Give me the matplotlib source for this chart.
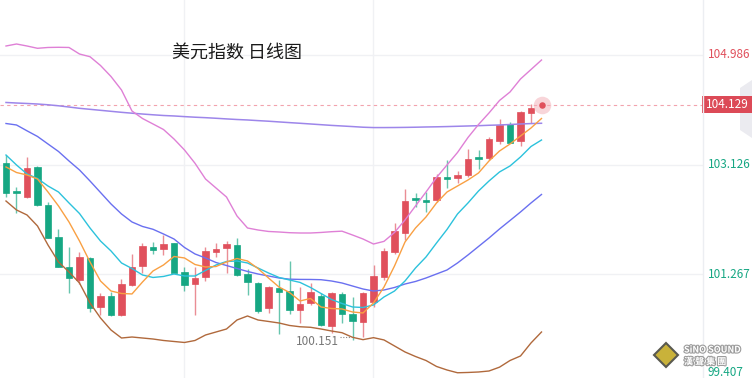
import matplotlib
matplotlib.use("Agg")
import matplotlib.pyplot as plt
import matplotlib.patheffects as pe
from matplotlib.patches import Rectangle, Polygon

# daily candles, US dollar index
opens = [103.157, 102.682, 102.570, 103.090, 102.439, 101.901, 101.392, 101.166, 101.545, 100.713,
         100.894, 100.572, 101.081, 101.404, 101.721, 101.687, 101.789, 101.307, 101.098, 101.222,
         101.646, 101.704, 101.760, 101.268, 101.120, 100.686, 101.025, 100.979, 100.657, 100.781,
         100.894, 100.385, 100.928, 100.589, 100.461, 100.798, 101.212, 101.646, 101.969, 102.553,
         102.512, 102.524, 102.906, 102.893, 102.949, 103.242, 103.232, 103.526, 103.809, 103.526,
         104.006, 104.110]
highs = [103.288, 102.750, 103.259, 103.101, 102.495, 102.027, 101.721, 101.636, 101.562, 100.940,
         100.967, 101.178, 101.602, 101.799, 101.816, 101.930, 101.799, 101.392, 101.392, 101.721,
         101.789, 101.833, 101.874, 101.353, 101.137, 101.064, 101.166, 101.489, 101.042, 101.120,
         100.940, 100.967, 100.967, 100.882, 100.967, 101.421, 101.704, 102.139, 102.706, 102.648,
         102.665, 102.966, 103.198, 103.017, 103.385, 103.373, 103.599, 103.894, 103.843, 104.035,
         104.154, 104.150]
lows = [102.580, 102.298, 102.560, 102.422, 101.880, 101.382, 100.950, 101.098, 100.628, 100.572,
        100.555, 100.555, 101.069, 101.280, 101.602, 101.590, 101.280, 100.984, 100.572, 101.154,
        101.562, 101.290, 101.234, 100.903, 100.611, 100.601, 100.249, 100.589, 100.441, 100.742,
        100.385, 100.261, 100.441, 100.151, 100.203, 100.713, 101.166, 101.607, 101.845, 102.400,
        102.315, 102.495, 102.723, 102.808, 102.920, 103.045, 103.203, 103.470, 103.487, 103.441,
        103.826, 104.090]
closes = [102.648, 102.638, 103.062, 102.439, 101.884, 101.392, 101.205, 101.551, 100.686, 100.894,
          100.572, 101.093, 101.392, 101.743, 101.675, 101.772, 101.290, 101.081, 101.195, 101.658,
          101.692, 101.772, 101.251, 101.137, 100.645, 101.042, 100.967, 100.657, 100.759, 100.957,
          100.402, 100.950, 100.589, 100.475, 100.950, 101.234, 101.658, 101.998, 102.507, 102.524,
          102.490, 102.920, 102.881, 102.949, 103.215, 103.220, 103.555, 103.798, 103.497, 104.013,
          104.091, 104.129]

ma5 = [103.085, 102.991, 102.949, 102.881, 102.660, 102.423, 102.151, 101.828, 101.472, 101.149,
       100.979, 100.937, 100.929, 101.132, 101.319, 101.421, 101.565, 101.540, 101.429, 101.387,
       101.395, 101.472, 101.531, 101.489, 101.361, 101.200, 101.047, 100.954, 100.810, 100.852,
       100.708, 100.682, 100.674, 100.623, 100.606, 100.776, 101.047, 101.404, 101.811, 102.049,
       102.236, 102.474, 102.660, 102.762, 102.864, 102.983, 103.187, 103.356, 103.475, 103.611,
       103.747, 103.908]
ma10 = [103.288, 103.119, 102.966, 102.889, 102.762, 102.660, 102.474, 102.295, 102.049, 101.828,
        101.659, 101.455, 101.361, 101.251, 101.209, 101.226, 101.268, 101.234, 101.234, 101.328,
        101.421, 101.480, 101.489, 101.455, 101.370, 101.285, 101.209, 101.166, 101.125, 101.039,
        100.937, 100.835, 100.767, 100.708, 100.699, 100.742, 100.878, 100.979, 101.149, 101.370,
        101.557, 101.794, 102.024, 102.287, 102.474, 102.677, 102.847, 103.000, 103.102, 103.255,
        103.433, 103.543]
boll_mid = [103.823, 103.798, 103.699, 103.603, 103.475, 103.348, 103.187, 103.034, 102.847, 102.652,
            102.457, 102.287, 102.151, 102.075, 102.027, 101.947, 101.862, 101.718, 101.608, 101.540,
            101.463, 101.412, 101.361, 101.311, 101.268, 101.234, 101.200, 101.180, 101.176, 101.175,
            101.171, 101.149, 101.115, 101.064, 101.013, 100.979, 100.996, 101.039, 101.098, 101.141,
            101.200, 101.268, 101.336, 101.455, 101.591, 101.735, 101.879, 102.032, 102.176, 102.321,
            102.474, 102.618]
boll_up = [105.139, 105.173, 105.139, 105.100, 105.114, 105.117, 105.114, 105.003, 104.957, 104.808,
           104.621, 104.392, 104.035, 103.908, 103.815, 103.721, 103.560, 103.373, 103.148, 102.881,
           102.728, 102.575, 102.253, 102.049, 102.015, 101.990, 101.981, 101.969, 101.964, 101.964,
           101.973, 101.986, 101.995, 101.930, 101.862, 101.777, 101.822, 101.973, 102.185, 102.423,
           102.660, 102.906, 103.119, 103.331, 103.586, 103.806, 104.002, 104.214, 104.358, 104.579,
           104.740, 104.901]
boll_dn = [102.507, 102.355, 102.270, 102.083, 101.760, 101.472, 101.302, 101.115, 100.776, 100.521,
           100.317, 100.181, 100.198, 100.181, 100.164, 100.139, 100.122, 100.105, 100.139, 100.232,
           100.283, 100.334, 100.487, 100.555, 100.487, 100.462, 100.436, 100.394, 100.372, 100.363,
           100.334, 100.300, 100.271, 100.193, 100.153, 100.187, 100.148, 100.046, 99.944, 99.867,
           99.799, 99.698, 99.638, 99.591, 99.596, 99.604, 99.621, 99.686, 99.799, 99.876,
           100.097, 100.283]
ma_long = [104.180, 104.171, 104.163, 104.154, 104.141, 104.124, 104.103, 104.081, 104.064, 104.047,
           104.030, 104.013, 103.998, 103.984, 103.971, 103.959, 103.951, 103.940, 103.930, 103.922,
           103.912, 103.901, 103.891, 103.883, 103.872, 103.862, 103.850, 103.838, 103.827, 103.815,
           103.803, 103.791, 103.781, 103.771, 103.760, 103.754, 103.754, 103.755, 103.757, 103.760,
           103.764, 103.767, 103.771, 103.776, 103.781, 103.786, 103.793, 103.798, 103.806, 103.815,
           103.822, 103.827]

axis_labels = ["104.986", "103.126", "101.267", "99.407"]
grid_prices = [104.986, 103.126, 101.267]
last_price = 104.129
low_price = 100.151
low_index = 33

UP = "#e0505c"
DOWN = "#16a783"

plt.rcParams['font.family'] = ['Noto Sans CJK SC', 'DejaVu Sans']

fig = plt.figure(figsize=(7.52, 3.78), dpi=100)
ax = fig.add_axes([0, 0, 703 / 752, 1])
ax.set_xlim(-0.571, 66.38)
ax.set_ylim(99.502, 105.920)
ax.axis('off')

# grid
for g in grid_prices:
    ax.axhline(g, color="#f0f1f4", lw=1, zorder=0)
for v in [16.95, 34.95]:
    ax.axvline(v, color="#f0f1f4", lw=1, zorder=0)

# candles
for i in range(len(opens) - 1):
    o, h, l, c = opens[i], highs[i], lows[i], closes[i]
    col = UP if c >= o else DOWN
    ax.vlines(i, l, h, color=col, lw=1, alpha=0.65, zorder=2)
    bottom = min(o, c)
    height = max(abs(c - o), 0.03)
    ax.add_patch(Rectangle((i - 0.33, bottom), 0.66, height, facecolor=col,
                           edgecolor=col, lw=0.5, zorder=3))

x = list(range(len(closes)))
ax.plot(x, ma_long, color="#9d86ea", lw=1.1, zorder=4)
ax.plot(x, boll_up, color="#df80d6", lw=1.0, zorder=4)
ax.plot(x, boll_dn, color="#b0693c", lw=1.0, zorder=4)
ax.plot(x, boll_mid, color="#6a70f0", lw=1.0, zorder=4)
ax.plot(x, ma10, color="#2cc2dc", lw=1.0, zorder=4)
ax.plot(x, ma5, color="#f9a043", lw=1.0, zorder=4)

# last price
ax.axhline(last_price, color="#f2a3ad", lw=0.8, ls=(0, (3, 3)), zorder=1)
ax.scatter([x[-1]], [closes[-1]], s=160, color="#f4b3bb", alpha=0.55, lw=0, zorder=5)
ax.scatter([x[-1]], [closes[-1]], s=22, color=UP, lw=0, zorder=6)

# lowest price mark
ax.text(low_index - 1.3, low_price - 0.03, "%.3f" % low_price, ha='right', va='center',
        color="#777777", fontsize=8.5, zorder=6)
ax.plot([low_index - 1.15, low_index - 0.2], [low_price + 0.04, low_price + 0.04],
        ls=(0, (1, 1.5)), color="#888888", lw=0.8, zorder=6)

# title
fig.text(172 / 752, 1 - 53 / 378, "美元指数 日线图", fontsize=13, va='center', color="#1a1a1a")

# right axis
fig.add_artist(plt.Line2D([703 / 752, 703 / 752], [0, 1], color="#eceef2", lw=1))
label_y = [55, 164, 274, 373]
for txt, yy in zip(axis_labels, label_y):
    col = UP if txt == axis_labels[0] else DOWN
    fig.text(708 / 752, 1 - yy / 378, txt, fontsize=8.5, va='center', color=col)

fig.add_artist(Polygon([(752 / 752, 1 - 80 / 378), (740 / 752, 1 - 88 / 378),
                        (740 / 752, 1 - 130 / 378), (752 / 752, 1 - 138 / 378)],
                       closed=True, transform=fig.transFigure, facecolor="#ebebf0",
                       edgecolor="none"))
fig.add_artist(Rectangle((702 / 752, 1 - 113 / 378), 50 / 752, 17 / 378,
                         transform=fig.transFigure, facecolor="#dc4a57", edgecolor="none"))
fig.text(706 / 752, 1 - 104.5 / 378, "%.3f" % last_price, fontsize=8.5, va='center', color="white")

# logo
fig.add_artist(Polygon([(666 / 752, 1 - 343 / 378), (678 / 752, 1 - 355 / 378),
                        (666 / 752, 1 - 367 / 378), (654 / 752, 1 - 355 / 378)],
                       closed=True, transform=fig.transFigure, facecolor="#c9b23a",
                       edgecolor="#5a5a50", lw=1.5))
shadow = [pe.withStroke(linewidth=1.6, foreground="#9c9c9c")]
fig.text(684 / 752, 1 - 350 / 378, "SiNO SOUND", fontsize=6.5, fontweight='bold',
         va='center', color="white", path_effects=shadow)
fig.text(684 / 752, 1 - 362 / 378, "漢 聲 集 團", fontsize=6.5, fontweight='bold',
         va='center', color="white", path_effects=shadow)

fig.savefig("out.png", dpi=100)
